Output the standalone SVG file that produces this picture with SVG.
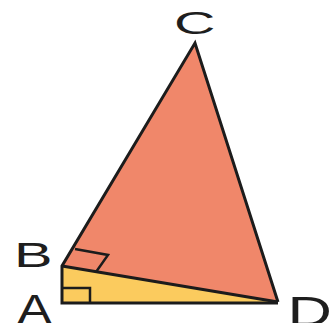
<svg xmlns="http://www.w3.org/2000/svg" width="331" height="323" viewBox="0 0 331 323">
<style>
.edge{stroke:#1c1c1c;stroke-width:3;stroke-linejoin:miter;fill:none}
.mark{stroke:#1c1c1c;stroke-width:2.5;fill:none}
.lbl{font-family:"Liberation Sans",Arial,sans-serif;fill:#1e1e1e}
</style>
<rect width="331" height="323" fill="#ffffff"/>
<g id="triangle-BCD">
<polygon points="62,266 195,43 278,302" fill="#F0876A"/>
</g>
<g id="triangle-ABD">
<polygon points="62,303 62,266 278,302" fill="#FBCB5E"/>
</g>
<g id="edges">
<polyline class="edge" points="278,302 195,43 62,266 62,303 278,303"/>
<line class="edge" x1="62" y1="266" x2="278" y2="302"/>
</g>
<g id="right-angle-marks">
<polyline class="mark" points="62,288 90,288 90,303"/>
<polyline class="mark" points="75,249 108,255 96,272"/>
</g>
<g id="labels">
<text class="lbl" font-size="31" transform="translate(174,34) scale(1.85,1)">C</text>
<text class="lbl" font-size="35" transform="translate(14,267) scale(1.65,1)">B</text>
<text class="lbl" font-size="43" transform="translate(17,324) scale(1.22,1)">A</text>
<text class="lbl" font-size="43" transform="translate(287.5,326) scale(1.43,1)">D</text>
</g>
</svg>
